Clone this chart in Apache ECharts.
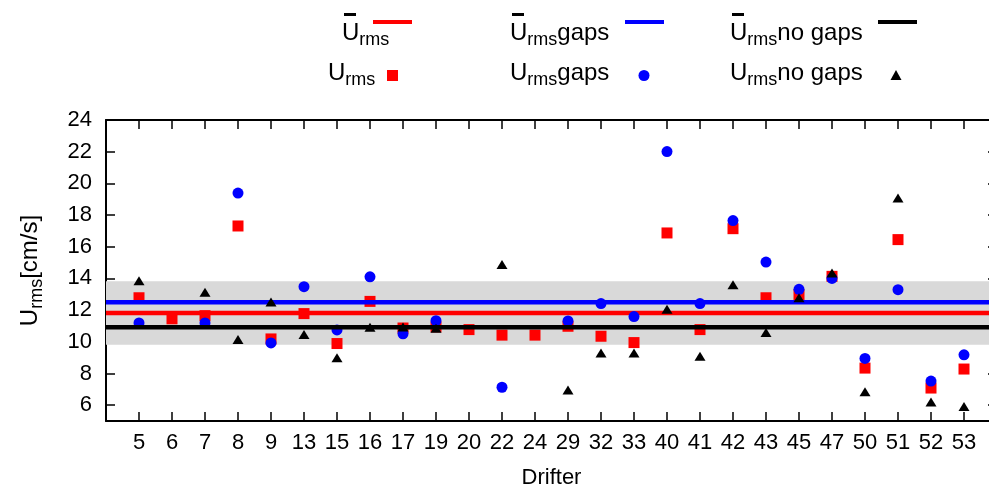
<!DOCTYPE html>
<html><head><meta charset="utf-8">
<script src="https://cdn.jsdelivr.net/npm/echarts@6/dist/echarts.min.js"></script>
<style>html,body{margin:0;padding:0;background:#fff}#c{width:989px;height:492px}</style>
</head><body><div id="c"></div>
<script>
// ---- data ----
const drifters = [5, 6, 7, 8, 9, 13, 15, 16, 17, 19, 20, 22, 24, 29, 32, 33, 40, 41, 42, 43, 45, 47, 50, 51, 52, 53];
const urms = [12.78, 11.45, 11.65, 17.31, 10.18, 11.78, 9.89, 12.55, 10.87, 10.94, 10.77, 10.42, 10.42, 10.98, 10.35, 9.95, 16.87, 10.77, 17.14, 12.78, 12.97, 14.13, 8.34, 16.45, 7.08, 8.28];
const urmsGaps = [11.19, null, 11.19, 19.39, 9.93, 13.48, 10.75, 14.10, 10.50, 11.33, null, 7.13, null, 11.32, 12.41, 11.59, 22.01, 12.41, 17.65, 15.03, 13.31, 14.00, 8.95, 13.29, 7.52, 9.18];
const urmsNoGaps = [13.85, null, 13.12, 10.14, 12.51, 10.46, 8.99, 10.92, 10.93, 10.85, null, 14.88, null, 6.96, 9.30, 9.30, 12.05, 9.09, 13.60, 10.58, 12.78, 14.34, 6.85, 19.07, 6.20, 5.91];
const meanUrms = 11.82;
const meanGaps = 12.49;
const meanNoGaps = 10.92;
const bandLow = 9.82;
const bandHigh = 13.82;
const yTicks = [6, 8, 10, 12, 14, 16, 18, 20, 22, 24];

// ---- chart ----
const FONT = 'Liberation Sans';
const X_MIN = 0, X_MAX = drifters.length + 1;
const pts = arr => arr.map((v, i) => v == null ? null : [i + 1, v]).filter(p => p);
const hline = v => [[X_MIN, v], [X_MAX, v]];
const labelFmt = v => (Number.isInteger(v) && v >= 1 && v <= drifters.length) ? String(drifters[v - 1]) : '';

const rich = {
  u: { fontFamily: FONT, fontSize: 24, color: '#000', lineHeight: 28, verticalAlign: 'top' },
  s: { fontFamily: FONT, fontSize: 18, color: '#000', lineHeight: 28, verticalAlign: 'bottom' }
};
const gStyle = t => ({ text: t, rich: rich, fill: '#000', align: 'left', verticalAlign: 'middle', fontFamily: FONT, fontSize: 24 });

const legCommon = { orient: 'horizontal', padding: 0, itemGap: 0, formatter: () => '', textStyle: { fontSize: 1 }, selectedMode: false };

const axisLineStyle = { show: true, onZero: false, lineStyle: { color: '#000', width: 2 } };
const tickStyle = { inside: true, length: 9, lineStyle: { color: '#000', width: 1.5 } };

const option = {
  animation: false,
  backgroundColor: '#fff',
  grid: { left: 106, right: -8, top: 120, bottom: 71, containLabel: false, outerBoundsMode: 'none' },
  legend: [
    Object.assign({}, legCommon, { data: [{ name: 'mean', icon: 'rect' }], left: 373, top: 20, itemWidth: 39, itemHeight: 4 }),
    Object.assign({}, legCommon, { data: [{ name: 'meanGaps', icon: 'rect' }], left: 625, top: 20, itemWidth: 39, itemHeight: 4 }),
    Object.assign({}, legCommon, { data: [{ name: 'meanNoGaps', icon: 'rect' }], left: 878, top: 20, itemWidth: 39, itemHeight: 4 }),
    Object.assign({}, legCommon, { data: ['urms'], left: 387, top: 70, itemWidth: 11, itemHeight: 11 }),
    Object.assign({}, legCommon, { data: ['gaps'], left: 638.5, top: 70, itemWidth: 11, itemHeight: 11 }),
    Object.assign({}, legCommon, { data: ['nogaps'], left: 890.5, top: 70, itemWidth: 11, itemHeight: 10 })
  ],
  graphic: [
    { type: 'rect', shape: { x: 344, y: 13, width: 12, height: 3 }, style: { fill: '#000' } },
    { type: 'rect', shape: { x: 512, y: 13, width: 12, height: 3 }, style: { fill: '#000' } },
    { type: 'rect', shape: { x: 732, y: 13, width: 12, height: 3 }, style: { fill: '#000' } },
    { type: 'text', x: 342, y: 35.5, style: gStyle('{u|U}{s|rms}') },
    { type: 'text', x: 510, y: 35.5, style: gStyle('{u|U}{s|rms}{u|gaps}') },
    { type: 'text', x: 730, y: 35.5, style: gStyle('{u|U}{s|rms}{u|no gaps}') },
    { type: 'text', x: 328, y: 75.5, style: gStyle('{u|U}{s|rms}') },
    { type: 'text', x: 510, y: 75.5, style: gStyle('{u|U}{s|rms}{u|gaps}') },
    { type: 'text', x: 730, y: 75.5, style: gStyle('{u|U}{s|rms}{u|no gaps}') }
  ],
  xAxis: [
    {
      type: 'value', min: X_MIN, max: X_MAX, interval: 1, position: 'bottom',
      name: 'Drifter', nameLocation: 'middle', nameGap: 46,
      nameTextStyle: { fontFamily: FONT, fontSize: 22, color: '#000' },
      axisLine: axisLineStyle, axisTick: tickStyle,
      axisLabel: { formatter: labelFmt, fontFamily: FONT, fontSize: 22, color: '#000', margin: 11 },
      splitLine: { show: false }
    },
    {
      type: 'value', min: X_MIN, max: X_MAX, interval: 1, position: 'top',
      axisLine: axisLineStyle, axisTick: tickStyle, axisLabel: { show: false }, splitLine: { show: false }
    }
  ],
  yAxis: [
    {
      type: 'value', min: 5, max: 24, position: 'left',
      name: '{u|U}{s|rms}{u|[cm/s]}', nameLocation: 'middle', nameGap: 60,
      nameTextStyle: { rich: rich },
      axisLine: axisLineStyle,
      axisTick: Object.assign({}, tickStyle, { customValues: yTicks }),
      axisLabel: { customValues: yTicks, fontFamily: FONT, fontSize: 22, color: '#000', margin: 14 },
      splitLine: { show: false }
    },
    {
      type: 'value', min: 5, max: 24, position: 'right',
      axisLine: axisLineStyle,
      axisTick: Object.assign({}, tickStyle, { customValues: yTicks }),
      axisLabel: { show: false }, splitLine: { show: false }
    }
  ],
  series: [
    {
      name: 'mean', type: 'line', data: hline(meanUrms), symbol: 'none', z: 2,
      color: '#ff0000', lineStyle: { color: '#ff0000', width: 4.5 },
      markArea: { silent: true, z: 1, itemStyle: { color: '#d9d9d9' }, data: [[{ yAxis: bandLow }, { yAxis: bandHigh }]] }
    },
    {
      name: 'urms', type: 'scatter', data: pts(urms), symbol: 'rect', symbolSize: 11, z: 3,
      itemStyle: { color: '#ff0000', opacity: 1 }
    },
    {
      name: 'meanGaps', type: 'line', data: hline(meanGaps), symbol: 'none', z: 4,
      color: '#0000ff', lineStyle: { color: '#0000ff', width: 4.5 }
    },
    {
      name: 'gaps', type: 'scatter', data: pts(urmsGaps), symbol: 'circle', symbolSize: 11, z: 5,
      itemStyle: { color: '#0000ff', opacity: 1 }
    },
    {
      name: 'meanNoGaps', type: 'line', data: hline(meanNoGaps), symbol: 'none', z: 6,
      color: '#000000', lineStyle: { color: '#000000', width: 4.5 }
    },
    {
      name: 'nogaps', type: 'scatter', data: pts(urmsNoGaps), symbol: 'triangle', symbolSize: [11, 9], z: 7,
      itemStyle: { color: '#000000', opacity: 1 }
    }
  ]
};
const chart = echarts.init(document.getElementById('c'), null, { renderer: 'canvas', width: 989, height: 492 });
chart.setOption(option);
</script>
</body></html>
